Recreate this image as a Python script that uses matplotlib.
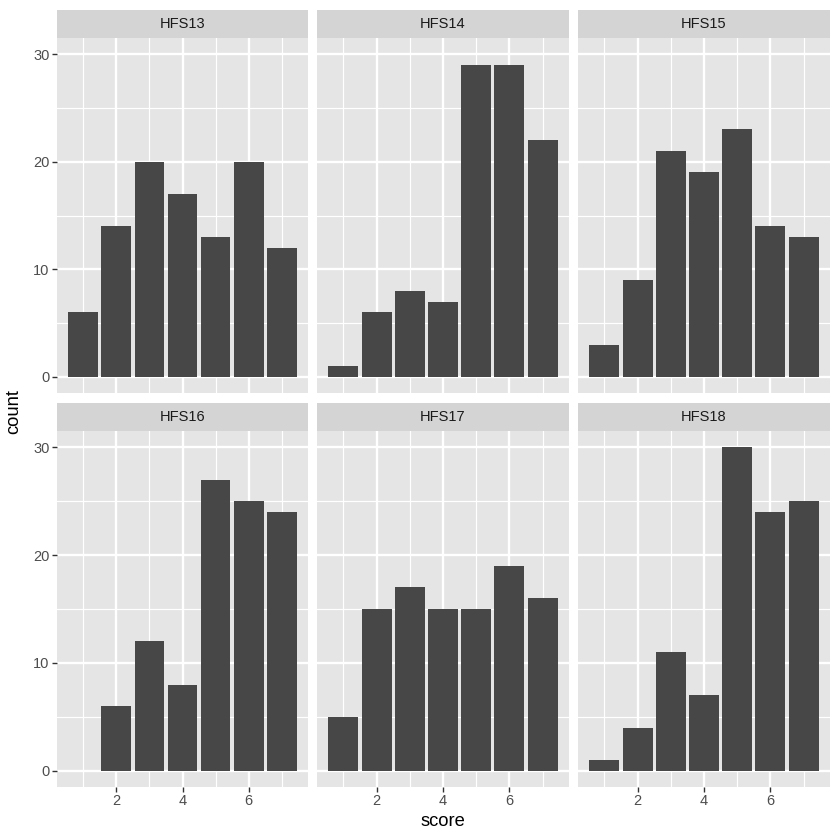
import matplotlib
matplotlib.use("Agg")
import matplotlib.pyplot as plt

# counts per score (1..7) for each facet
scores = [1, 2, 3, 4, 5, 6, 7]
facets = ["HFS13", "HFS14", "HFS15", "HFS16", "HFS17", "HFS18"]
hfs13 = [6, 14, 20, 17, 13, 20, 12]
hfs14 = [1, 6, 8, 7, 29, 29, 22]
hfs15 = [3, 9, 21, 19, 23, 14, 13]
hfs16 = [0, 6, 12, 8, 27, 25, 24]
hfs17 = [5, 15, 17, 15, 15, 19, 16]
hfs18 = [1, 4, 11, 7, 30, 24, 25]
counts = [hfs13, hfs14, hfs15, hfs16, hfs17, hfs18]

plt.rcParams['font.family'] = ['Liberation Sans', 'DejaVu Sans']

W = H = 840
fig = plt.figure(figsize=(8.4, 8.4), dpi=100)

panel_bg = '#E5E5E5'
strip_bg = '#D4D4D4'
bar_col = '#474747'

# panel boxes in pixels (left, right) / (top, bottom)
cols = [(57, 308), (317, 569), (578, 830)]
rows = [(38, 393), (431, 787)]
strip_h = 28

def fx(px):
    return px / W

def fy(px):
    return 1 - px / H

for i, name in enumerate(facets):
    r, c = divmod(i, 3)
    x0, x1 = cols[c]
    y0, y1 = rows[r]
    ax = fig.add_axes([fx(x0), fy(y1), fx(x1) - fx(x0), (y1 - y0) / H])
    ax.set_facecolor(panel_bg)
    ax.bar(scores, counts[i], width=0.9, color=bar_col, zorder=3)
    ax.set_xlim(0.205, 7.795)
    ax.set_ylim(-1.5, 31.5)
    ax.set_xticks([2, 4, 6])
    ax.set_xticks([1, 3, 5, 7], minor=True)
    ax.set_yticks([0, 10, 20, 30])
    ax.set_yticks([5, 15, 25], minor=True)
    ax.grid(which='major', color='white', linewidth=1.7, zorder=1)
    ax.grid(which='minor', color='white', linewidth=0.85, zorder=1)
    ax.set_axisbelow(True)
    for s in ax.spines.values():
        s.set_visible(False)
    ax.tick_params(which='minor', length=0)
    ax.tick_params(which='major', length=3.3, width=1.0, color='#333333',
                   labelsize=10.5, labelcolor='#4D4D4D', pad=2)
    if c != 0:
        ax.tick_params(axis='y', which='major', length=0, labelleft=False)
    if r != 1:
        ax.tick_params(axis='x', which='major', length=0, labelbottom=False)

    # facet strip
    sax = fig.add_axes([fx(x0), fy(y0), fx(x1) - fx(x0), strip_h / H])
    sax.set_facecolor(strip_bg)
    sax.set_xticks([])
    sax.set_yticks([])
    for s in sax.spines.values():
        s.set_visible(False)
    sax.text(0.5, 0.5, name, ha='center', va='center', fontsize=10.5,
             color='#1A1A1A', transform=sax.transAxes)

fig.text(fx(443), fy(821), 'score', ha='center', va='center', fontsize=13.2,
         color='black')
fig.text(fx(14), fy(412), 'count', ha='center', va='center', fontsize=13.2,
         color='black', rotation=90)

fig.savefig('out.png', dpi=100, facecolor='white')
